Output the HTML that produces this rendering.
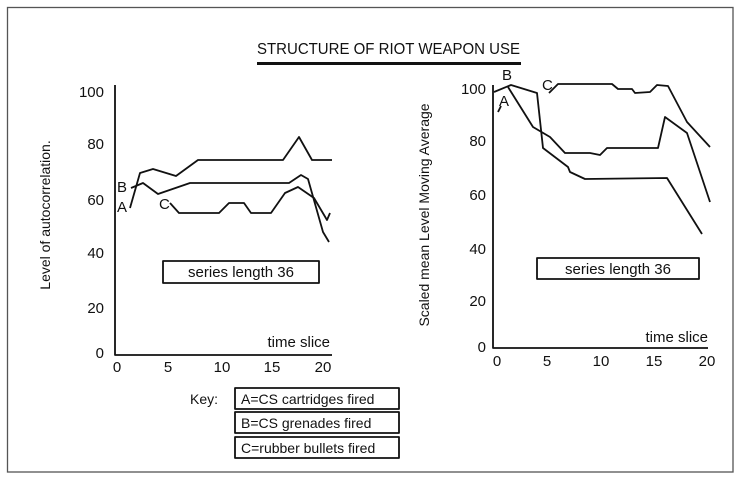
<!DOCTYPE html>
<html><head><style>
html,body{margin:0;padding:0;background:#fff;}
svg{display:block;font-family:"Liberation Sans",sans-serif;}
</style></head><body>
<svg width="741" height="482" viewBox="0 0 741 482" xmlns="http://www.w3.org/2000/svg">
<rect x="0" y="0" width="741" height="482" fill="#fff"/>
<rect x="7.5" y="7.5" width="725.5" height="464.5" fill="none" stroke="#555" stroke-width="1.3"/>
<text x="257" y="54" font-size="16" textLength="263" lengthAdjust="spacingAndGlyphs" fill="#111">STRUCTURE OF RIOT WEAPON USE</text>
<line x1="257" y1="63.5" x2="521" y2="63.5" stroke="#111" stroke-width="3"/>

<g stroke="#111" stroke-width="1.8" fill="none" stroke-linejoin="round">
<polyline points="115,85 115,355 332,355"/>
<polyline points="130,208 140,173 153,169 176,176 198,160 283,160 299,137 312,160 332,160"/>
<polyline points="131,188 143,183 158,194 190,183 289,183 301,175 308,179 323,232 329,242"/>
<polyline points="170,203 179,213 219,213 229,203 244,203 251,213 271,213 285,193 298,187 314,198 327,220 330,213"/>
<rect x="163" y="261" width="156" height="22"/>
<polyline points="493,85 493,348 708,348"/>
<polyline points="494,92 511,85 537,93 543,148 568,167 570,172 585,179 667,178 702,234"/>
<polyline points="508,87 533,127 550,137 565,153 590,153 600,155 607,148 658,148 665,117 687,133 710,202"/>
<polyline points="549,93 558,84 612,84 618,89 632,89 635,93 650,92 657,85 668,86 687,122 710,147"/>
<line x1="498" y1="112" x2="501" y2="106"/>
<rect x="537" y="258" width="162" height="21"/>
<rect x="235" y="388" width="164" height="21"/>
<rect x="235" y="412" width="164" height="21"/>
<rect x="235" y="437" width="164" height="21"/>
</g>

<g font-size="15" fill="#111">
<text x="104" y="97" text-anchor="end">100</text>
<text x="104" y="149" text-anchor="end">80</text>
<text x="104" y="205" text-anchor="end">60</text>
<text x="104" y="258" text-anchor="end">40</text>
<text x="104" y="313" text-anchor="end">20</text>
<text x="104" y="358" text-anchor="end">0</text>
<text x="117" y="372" text-anchor="middle">0</text>
<text x="168" y="372" text-anchor="middle">5</text>
<text x="222" y="372" text-anchor="middle">10</text>
<text x="272" y="372" text-anchor="middle">15</text>
<text x="323" y="372" text-anchor="middle">20</text>
<text x="330" y="347" text-anchor="end">time slice</text>
<text x="241" y="277" text-anchor="middle">series length 36</text>
<text x="117" y="192">B</text>
<text x="117" y="212">A</text>
<text x="159" y="209">C</text>
<text transform="translate(50,215) rotate(-90)" text-anchor="middle" font-size="14">Level of autocorrelation.</text>

<text x="486" y="94" text-anchor="end">100</text>
<text x="486" y="146" text-anchor="end">80</text>
<text x="486" y="200" text-anchor="end">60</text>
<text x="486" y="254" text-anchor="end">40</text>
<text x="486" y="306" text-anchor="end">20</text>
<text x="486" y="352" text-anchor="end">0</text>
<text x="497" y="366" text-anchor="middle">0</text>
<text x="547" y="366" text-anchor="middle">5</text>
<text x="601" y="366" text-anchor="middle">10</text>
<text x="654" y="366" text-anchor="middle">15</text>
<text x="707" y="366" text-anchor="middle">20</text>
<text x="708" y="342" text-anchor="end">time slice</text>
<text x="618" y="274" text-anchor="middle">series length 36</text>
<text x="502" y="80">B</text>
<text x="499" y="106">A</text>
<text x="542" y="90">C</text>
<text transform="translate(429,215) rotate(-90)" text-anchor="middle" font-size="14">Scaled mean Level Moving Average</text>

<text x="190" y="404" font-size="14">Key:</text>
<text x="241" y="404" font-size="14">A=CS cartridges fired</text>
<text x="241" y="428" font-size="14">B=CS grenades fired</text>
<text x="241" y="453" font-size="14">C=rubber bullets fired</text>
</g>
</svg>
</body></html>
